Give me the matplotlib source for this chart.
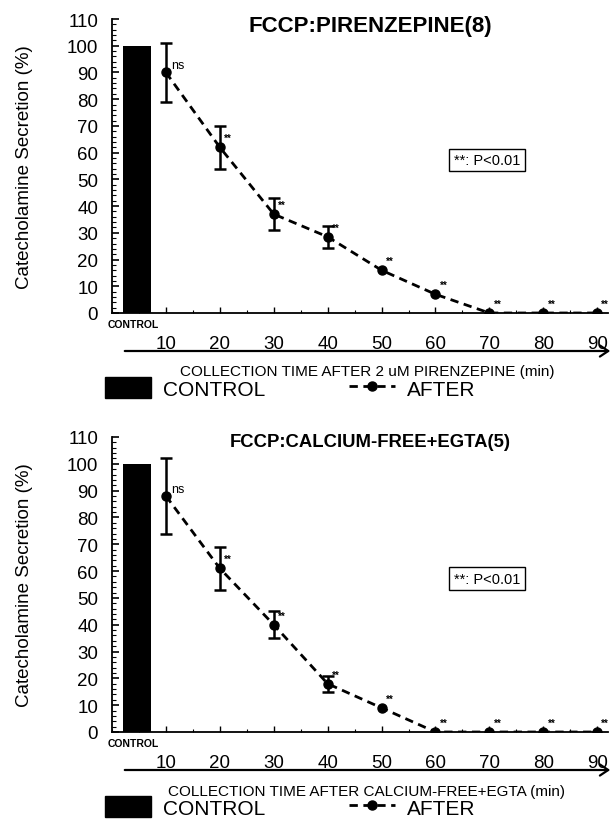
import matplotlib
matplotlib.use("Agg")
import matplotlib.pyplot as plt
from matplotlib.patches import Patch, FancyArrowPatch
from matplotlib.lines import Line2D
from matplotlib.ticker import MultipleLocator

plt.rcParams["font.family"] = ["Liberation Sans", "DejaVu Sans"]

# collection times (min) after treatment
times = [10, 20, 30, 40, 50, 60, 70, 80, 90]
control_value = 100

# FCCP : pirenzepine (n=8)
pir_mean = [90, 62, 37, 28.5, 16, 7, 0, 0, 0]
pir_err = [11, 8, 6, 4, 0, 0, 0, 0, 0]
pir_sig = ["ns", "**", "**", "**", "**", "**", "**", "**", "**"]

# FCCP : calcium-free + EGTA (n=5)
egta_mean = [88, 61, 40, 18, 9, 0, 0, 0, 0]
egta_err = [14, 8, 5, 3, 0, 0, 0, 0, 0]
egta_sig = ["ns", "**", "**", "**", "**", "**", "**", "**", "**"]

W, H = 614, 820
fig = plt.figure(figsize=(W / 100, H / 100), dpi=100)


def fx(px):
    return px / W


def fy(py):
    return 1 - py / H


def panel(top_px, base_px, mean, err, sig, title, title_size, xlabel):
    ax = fig.add_axes([fx(112), fy(base_px), fx(608) - fx(112), fy(top_px) - fy(base_px)])
    ax.bar(4.6, control_value, width=5.2, color="black")
    ax.plot(times, mean, color="black", ls=(0, (3, 2)), lw=2.0,
            marker="o", ms=6.5, zorder=3)
    ex = [t for t, e in zip(times, err) if e > 0]
    ey = [m for m, e in zip(mean, err) if e > 0]
    ee = [e for e in err if e > 0]
    ax.errorbar(ex, ey, yerr=ee, fmt="none", ecolor="black", elinewidth=1.8,
                capsize=4, capthick=1.8, zorder=3)
    for t, m, s in zip(times, mean, sig):
        if s == "ns":
            ax.annotate(s, (t, m), xytext=(4, 1), textcoords="offset points",
                        fontsize=9, va="bottom", ha="left")
        else:
            ax.annotate(s, (t, m), xytext=(3, 3), textcoords="offset points",
                        fontsize=7, fontweight="bold", va="bottom", ha="left")

    ax.set_xlim(0, 92)
    ax.set_ylim(0, 110)
    ax.spines["top"].set_visible(False)
    ax.spines["right"].set_visible(False)
    ax.spines["left"].set_linewidth(1.3)
    ax.spines["bottom"].set_linewidth(1.3)
    ax.set_yticks(range(0, 111, 10))
    ax.yaxis.set_minor_locator(MultipleLocator(2))
    ax.set_xticks(times)
    ax.xaxis.set_minor_locator(MultipleLocator(5))
    ax.tick_params(axis="y", which="major", direction="in", length=5, width=1.2,
                   labelsize=13.5, pad=10)
    ax.tick_params(axis="y", which="minor", direction="in", length=3, width=0.8)
    ax.tick_params(axis="x", which="major", direction="in", length=4, width=1.0,
                   labelsize=13.5, pad=16)
    ax.tick_params(axis="x", which="minor", direction="in", length=2, width=0.8)

    ax.set_ylabel("Catecholamine Secretion (%)", fontsize=13.5)
    ax.yaxis.set_label_coords(-0.16, 0.5)
    ax.set_xlabel(xlabel, fontsize=11)
    ax.xaxis.set_label_coords(0.514, -0.175)
    ax.set_title(title, fontsize=title_size, fontweight="bold",
                 x=0.52, y=0.985, va="top")

    ax.text(-0.008, -0.037, "CONTROL", transform=ax.transAxes, fontsize=7.5,
            fontweight="bold", ha="left", va="center")

    # arrow under the tick numbers
    arrow_y = fy(base_px + 38)
    fig.add_artist(FancyArrowPatch(
        (fx(122), arrow_y), (fx(613), arrow_y), transform=fig.transFigure,
        arrowstyle="->,head_length=6,head_width=4", lw=1.6, color="black"))

    ax.text(0.756, 0.52, "**: P<0.01", transform=ax.transAxes, fontsize=10.5,
            ha="center", va="center",
            bbox=dict(boxstyle="square,pad=0.3", fc="white", ec="black", lw=1))

    handles = [Patch(color="black"),
               Line2D([], [], color="black", ls=(0, (3, 2)), lw=2.0, marker="o", ms=6.5)]
    fig.legend(handles, ["CONTROL", "AFTER"], ncol=2, frameon=False,
               loc="upper left", bbox_to_anchor=(fx(105), fy(base_px + 64)),
               bbox_transform=fig.transFigure, fontsize=15, borderpad=0,
               borderaxespad=0, handlelength=2.2, handleheight=1.2,
               handletextpad=0.6, columnspacing=4.0)
    return ax


panel(20, 314, pir_mean, pir_err, pir_sig, "FCCP:PIRENZEPINE(8)", 16,
      "COLLECTION TIME AFTER 2 uM PIRENZEPINE (min)")
panel(438, 733, egta_mean, egta_err, egta_sig, "FCCP:CALCIUM-FREE+EGTA(5)", 13.3,
      "COLLECTION TIME AFTER CALCIUM-FREE+EGTA (min)")

fig.savefig("out.png", dpi=100)
